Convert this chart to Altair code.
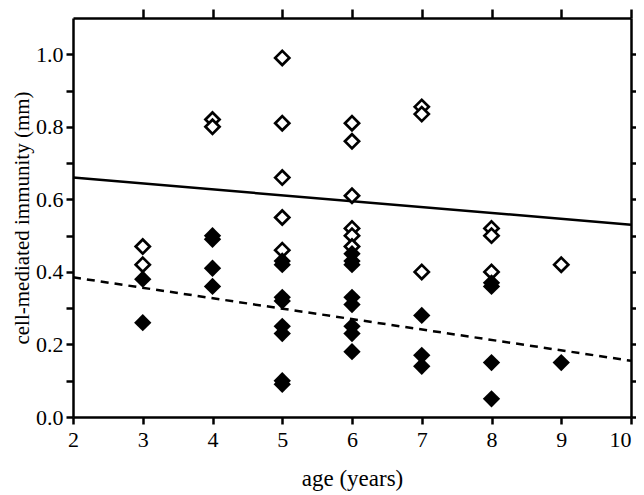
import altair as alt
import pandas as pd

# open diamonds
open_x = [3, 3, 4, 4, 5, 5, 5, 5, 5, 6, 6, 6, 6, 6, 6, 7, 7, 7, 8, 8, 8, 9]
open_y = [0.47, 0.42, 0.82, 0.80, 0.99, 0.81, 0.66, 0.55, 0.46,
          0.81, 0.76, 0.61, 0.52, 0.50, 0.47, 0.855, 0.835, 0.40,
          0.52, 0.50, 0.40, 0.42]
# filled diamonds
fill_x = [3, 3, 4, 4, 4, 4, 5, 5, 5, 5, 5, 5, 5, 5,
          6, 6, 6, 6, 6, 6, 6, 6, 7, 7, 7, 8, 8, 8, 8, 9]
fill_y = [0.38, 0.26, 0.50, 0.49, 0.41, 0.36,
          0.43, 0.42, 0.33, 0.32, 0.25, 0.23, 0.10, 0.09,
          0.45, 0.43, 0.42, 0.33, 0.31, 0.25, 0.23, 0.18,
          0.28, 0.17, 0.14, 0.37, 0.36, 0.15, 0.05, 0.15]
# regression lines
line_x = [2, 10]
solid_y = [0.66, 0.53]
dashed_y = [0.385, 0.155]

x_ticks = [2, 3, 4, 5, 6, 7, 8, 9, 10]
top_ticks = [3, 4, 5, 6, 7, 8, 9, 10]
y_ticks = [0.0, 0.1, 0.2, 0.3, 0.4, 0.5, 0.6, 0.7, 0.8, 0.9, 1.0]

df_open = pd.DataFrame({"age": open_x, "cmi": open_y})
df_fill = pd.DataFrame({"age": fill_x, "cmi": fill_y})
df_solid = pd.DataFrame({"age": line_x, "cmi": solid_y})
df_dash = pd.DataFrame({"age": line_x, "cmi": dashed_y})

FONT = "Liberation Serif"
xs = alt.Scale(domain=[2, 10], nice=False, zero=False)
ys = alt.Scale(domain=[0, 1.1], nice=False, zero=False)

common_axis = dict(domainColor="black", domainWidth=2.5, tickColor="black",
                   tickWidth=2.5, grid=False, labelFlush=False, labelOverlap=False,
                   labelFont=FONT, labelFontSize=22, labelColor="black",
                   titleFont=FONT, titleColor="black", titleFontWeight="normal")

x_bottom = alt.Axis(orient="bottom", values=x_ticks, tickSize=7, labelPadding=5,
                    format="d", title="age (years)", titlePadding=17,
                    titleFontSize=23,
                    labelAlign=alt.condition("datum.value == 10", alt.value("right"),
                                             alt.value("center")),
                    **common_axis)
y_left = alt.Axis(orient="left", values=y_ticks, tickSize=7, labelPadding=3,
                  labelExpr="round(datum.value*10) % 2 == 0 ? format(datum.value, '.1f') : ''",
                  title="cell-mediated immunity (mm)", titlePadding=3,
                  titleFontSize=21, **common_axis)
x_top = alt.Axis(orient="top", values=top_ticks, tickSize=9, labels=False, title=None,
                 **common_axis)
y_right = alt.Axis(orient="right", values=y_ticks, tickSize=8, labels=False, title=None,
                   **common_axis)

solid = alt.Chart(df_solid).mark_line(color="black", strokeWidth=2.5).encode(
    x=alt.X("age:Q", scale=xs, axis=None),
    y=alt.Y("cmi:Q", scale=ys, axis=None),
)
dashed = alt.Chart(df_dash).mark_line(color="black", strokeWidth=2.5,
                                      strokeDash=[8, 6]).encode(
    x=alt.X("age:Q", scale=xs, axis=None),
    y=alt.Y("cmi:Q", scale=ys, axis=None),
)
opens = alt.Chart(df_open).mark_point(shape="diamond", filled=False, fill="white",
                                      fillOpacity=1, stroke="black", strokeWidth=2.7,
                                      size=200, opacity=1).encode(
    x=alt.X("age:Q", scale=xs, axis=x_bottom),
    y=alt.Y("cmi:Q", scale=ys, axis=y_left),
)
fills = alt.Chart(df_fill).mark_point(shape="diamond", filled=True, color="black",
                                      size=300, opacity=1).encode(
    x=alt.X("age:Q", scale=xs, axis=x_top),
    y=alt.Y("cmi:Q", scale=ys, axis=y_right),
)

chart = alt.layer(solid, dashed, opens, fills).resolve_axis(
    x="independent", y="independent"
).properties(
    width=558, height=399,
    autosize=alt.AutoSizeParams(type="none"),
    padding={"left": 65, "top": 10, "right": 5, "bottom": 78},
    background="white",
).configure_view(stroke=None)

chart.save("out.html", embed_options={"renderer": "svg", "actions": False})
